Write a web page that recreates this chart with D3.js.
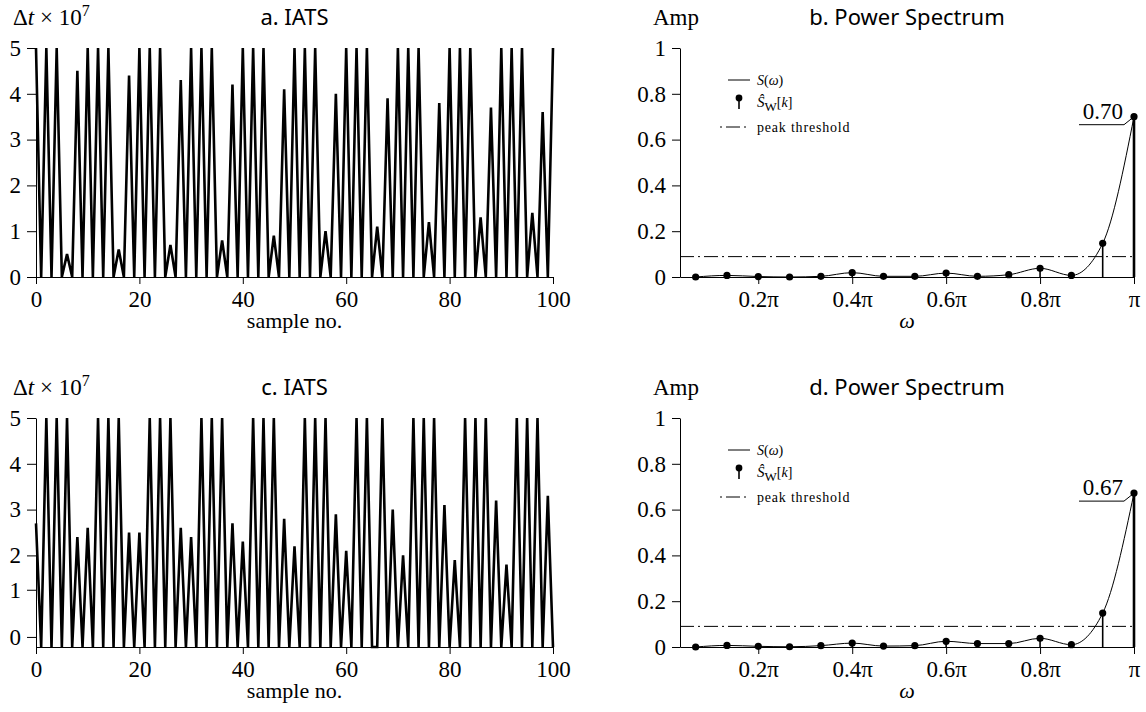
<!DOCTYPE html>
<html>
<head>
<meta charset="utf-8">
<script src="https://cdn.jsdelivr.net/npm/d3@7"></script>
<style>
  body { margin: 0; background: #fff; }
</style>
</head>
<body>
<script>
// IATS samples (Δt × 10^7), sample no. 0..100
const iatsA = [
  5, 0, 5, 0, 5, 0, 0.5, 0, 4.5, 0,
  5, 0, 5, 0, 5, 0, 0.6, 0, 4.4, 0,
  5, 0, 5, 0, 5, 0, 0.7, 0, 4.3, 0,
  5, 0, 5, 0, 5, 0, 0.8, 0, 4.2, 0,
  5, 0, 5, 0, 5, 0, 0.9, 0, 4.1, 0,
  5, 0, 5, 0, 5, 0, 1.0, 0, 4.0, 0,
  5, 0, 5, 0, 5, 0, 1.1, 0, 3.9, 0,
  5, 0, 5, 0, 5, 0, 1.2, 0, 3.8, 0,
  5, 0, 5, 0, 5, 0, 1.3, 0, 3.7, 0,
  5, 0, 5, 0, 5, 0, 1.4, 0, 3.6, 0,
  5
];
const iatsC = [
  2.7, 0, 5, 0, 5, 0, 5, 0, 2.4, 0,
  2.6, 0, 5, 0, 5, 0, 5, 0, 2.5, 0,
  2.5, 0, 5, 0, 5, 0, 5, 0, 2.6, 0,
  2.4, 0, 5, 0, 5, 0, 5, 0, 2.7, 0,
  2.3, 0, 5, 0, 5, 0, 5, 0, 2.8, 0,
  2.2, 0, 5, 0, 5, 0, 5, 0, 2.9, 0,
  2.1, 0, 5, 0, 5, 0, 0, 5, 0, 3.0,
  0, 2.0, 0, 5, 0, 5, 0, 5, 0, 3.1,
  0, 1.9, 0, 5, 0, 5, 0, 5, 0, 3.2,
  0, 1.8, 0, 5, 0, 5, 0, 5, 0, 3.3,
  0
];

// power spectrum estimates at bins k*pi/15, k = 1..15
const specB = [0.0, 0.007, 0.002, 0.0, 0.003, 0.019, 0.003, 0.003, 0.017, 0.003, 0.01, 0.038, 0.007, 0.147, 0.70];
const specD = [0.0, 0.007, 0.003, 0.001, 0.006, 0.017, 0.004, 0.006, 0.025, 0.015, 0.015, 0.038, 0.01, 0.148, 0.672];
const threshB = 0.089;
const threshD = 0.09;
const peakLabelB = "0.70";
const peakLabelD = "0.67";

const sampleTicks = [0, 20, 40, 60, 80, 100];
const iatsTicksA = [0, 1, 2, 3, 4, 5];
const iatsTicksC = [0.22, 1.25, 2, 3, 4, 5];   // as placed in the original
const iatsTickLabels = ["0", "1", "2", "3", "4", "5"];
const ampTicks = [0, 0.2, 0.4, 0.6, 0.8, 1];
const ampTickLabels = ["0", "0.2", "0.4", "0.6", "0.8", "1"];
const omegaTicks = [0.2, 0.4, 0.6, 0.8, 1];      // multiples of pi
const omegaTickLabels = ["0.2π", "0.4π", "0.6π", "0.8π", "π"];

const serif = "'Liberation Serif', 'Times New Roman', serif";
const sans = "'Noto Sans', 'Open Sans', sans-serif";

const svg = d3.select("body").append("svg")
    .attr("width", 1146)
    .attr("height", 712);

function styleAxis(g) {
    g.attr("font-family", serif).attr("font-size", 23);
    g.selectAll("path, line").attr("stroke", "#000").attr("stroke-width", 1);
    g.selectAll("text").attr("fill", "#000");
}

function seriesPanel(top, values, yTicks, title) {
    const x = d3.scaleLinear().domain([0, 100]).range([36, 553]);
    const y = d3.scaleLinear().domain([0, 5]).range([top + 229, top]);
    const g = svg.append("g");

    g.append("g")
        .attr("transform", `translate(0,${y(0)})`)
        .call(d3.axisBottom(x).tickValues(sampleTicks).tickSize(7).tickPadding(7).tickSizeOuter(0))
        .call(styleAxis);

    g.append("g")
        .attr("transform", `translate(${x(0)},0)`)
        .call(d3.axisLeft(y).tickValues(yTicks)
            .tickFormat((d, i) => iatsTickLabels[i])
            .tickSize(9).tickPadding(6).tickSizeOuter(0))
        .call(styleAxis);

    const line = d3.line()
        .x((d, i) => x(i))
        .y(d => y(d));

    g.append("path")
        .datum(values)
        .attr("d", line)
        .attr("fill", "none")
        .attr("stroke", "#000")
        .attr("stroke-width", 2.6);

    // titles and labels
    const yl = g.append("text")
        .attr("x", 13).attr("y", top - 23)
        .attr("font-family", serif).attr("font-size", 23);
    yl.append("tspan").text("Δ");
    yl.append("tspan").attr("font-style", "italic").text("t");
    yl.append("tspan").text(" × 10");
    yl.append("tspan").attr("font-size", 16).attr("dy", -9).text("7");

    g.append("text")
        .attr("x", (x(0) + x(100)) / 2).attr("y", top - 23)
        .attr("text-anchor", "middle")
        .attr("font-family", sans).attr("font-size", 22)
        .text(title);

    g.append("text")
        .attr("x", (x(0) + x(100)) / 2).attr("y", top + 280)
        .attr("text-anchor", "middle")
        .attr("font-family", serif).attr("font-size", 22)
        .text("sample no.");
}

function spectrumPanel(top, vals, thresh, peakLabel, title) {
    const freqs = vals.map((d, i) => (i + 1) / 15);
    const x = d3.scaleLinear().domain([1 / 30, 1]).range([680, 1134]);
    const y = d3.scaleLinear().domain([0, 1]).range([top + 229, top]);
    const g = svg.append("g");

    g.append("g")
        .attr("transform", `translate(0,${y(0)})`)
        .call(d3.axisBottom(x).tickValues(omegaTicks)
            .tickFormat((d, i) => omegaTickLabels[i])
            .tickSize(7).tickPadding(7).tickSizeOuter(0))
        .call(styleAxis);

    g.append("g")
        .attr("transform", `translate(${x(1 / 30)},0)`)
        .call(d3.axisLeft(y).tickValues(ampTicks)
            .tickFormat((d, i) => ampTickLabels[i])
            .tickSize(8).tickPadding(6).tickSizeOuter(0))
        .call(styleAxis);

    // peak threshold
    g.append("line")
        .attr("x1", x(1 / 30)).attr("x2", x(1))
        .attr("y1", y(thresh)).attr("y2", y(thresh))
        .attr("stroke", "#000").attr("stroke-width", 1)
        .attr("stroke-dasharray", "14,4,2,4");

    // continuous spectrum
    const curve = d3.line()
        .x((d, i) => x(freqs[i]))
        .y(d => y(d))
        .curve(d3.curveMonotoneX);
    g.append("path")
        .datum(vals)
        .attr("d", curve)
        .attr("fill", "none")
        .attr("stroke", "#000")
        .attr("stroke-width", 1);

    // stems
    g.selectAll(".stem")
        .data(vals)
        .enter()
        .append("line")
        .attr("class", "stem")
        .attr("x1", (d, i) => x(freqs[i])).attr("x2", (d, i) => x(freqs[i]))
        .attr("y1", y(0)).attr("y2", d => y(d))
        .attr("stroke", "#000")
        .attr("stroke-width", (d, i) => i === vals.length - 1 ? 2.6 : 1.6);

    g.selectAll(".dot")
        .data(vals)
        .enter()
        .append("circle")
        .attr("class", "dot")
        .attr("cx", (d, i) => x(freqs[i]))
        .attr("cy", d => y(d))
        .attr("r", 3.6)
        .attr("fill", "#000");

    // peak annotation
    const pv = vals[vals.length - 1];
    const px = x(1), py = y(pv);
    g.append("text")
        .attr("x", px - 11).attr("y", py + 2)
        .attr("text-anchor", "end")
        .attr("font-family", serif).attr("font-size", 23)
        .text(peakLabel);
    g.append("path")
        .attr("d", `M${px - 55},${py + 8}H${px - 10}L${px},${py}`)
        .attr("fill", "none").attr("stroke", "#000").attr("stroke-width", 1);

    // legend
    const lg = g.append("g").attr("font-family", serif).attr("font-size", 14);
    lg.append("line")
        .attr("x1", 728).attr("x2", 750).attr("y1", top + 32).attr("y2", top + 32)
        .attr("stroke", "#000").attr("stroke-width", 1);
    const t1 = lg.append("text").attr("x", 757).attr("y", top + 37);
    t1.append("tspan").attr("font-style", "italic").text("S");
    t1.append("tspan").text("(");
    t1.append("tspan").attr("font-style", "italic").text("ω");
    t1.append("tspan").text(")");

    lg.append("line")
        .attr("x1", 739).attr("x2", 739).attr("y1", top + 50).attr("y2", top + 61)
        .attr("stroke", "#000").attr("stroke-width", 1.6);
    lg.append("circle")
        .attr("cx", 739).attr("cy", top + 50).attr("r", 3.4).attr("fill", "#000");
    const t2 = lg.append("text").attr("x", 757).attr("y", top + 59);
    t2.append("tspan").attr("font-style", "italic").attr("font-size", 15).text("Ŝ");
    t2.append("tspan").attr("dy", 4).attr("font-size", 13).text("W");
    t2.append("tspan").attr("dy", -4).text("[");
    t2.append("tspan").attr("font-style", "italic").text("k");
    t2.append("tspan").text("]");

    lg.append("line")
        .attr("x1", 720).attr("x2", 750).attr("y1", top + 79).attr("y2", top + 79)
        .attr("stroke", "#000").attr("stroke-width", 1)
        .attr("stroke-dasharray", "2,4,14,4");
    lg.append("text").attr("x", 757).attr("y", top + 84)
        .attr("letter-spacing", 0.8)
        .text("peak threshold");

    // titles and labels
    g.append("text")
        .attr("x", 653).attr("y", top - 23)
        .attr("font-family", serif).attr("font-size", 23)
        .text("Amp");

    g.append("text")
        .attr("x", (680 + 1134) / 2).attr("y", top - 23)
        .attr("text-anchor", "middle")
        .attr("font-family", sans).attr("font-size", 22)
        .text(title);

    g.append("text")
        .attr("x", (680 + 1134) / 2).attr("y", top + 280)
        .attr("text-anchor", "middle")
        .attr("font-family", serif).attr("font-size", 22)
        .attr("font-style", "italic")
        .text("ω");
}

seriesPanel(48, iatsA, iatsTicksA, "a. IATS");
spectrumPanel(48, specB, threshB, peakLabelB, "b. Power Spectrum");
seriesPanel(418, iatsC, iatsTicksC, "c. IATS");
spectrumPanel(418, specD, threshD, peakLabelD, "d. Power Spectrum");
</script>
</body>
</html>
